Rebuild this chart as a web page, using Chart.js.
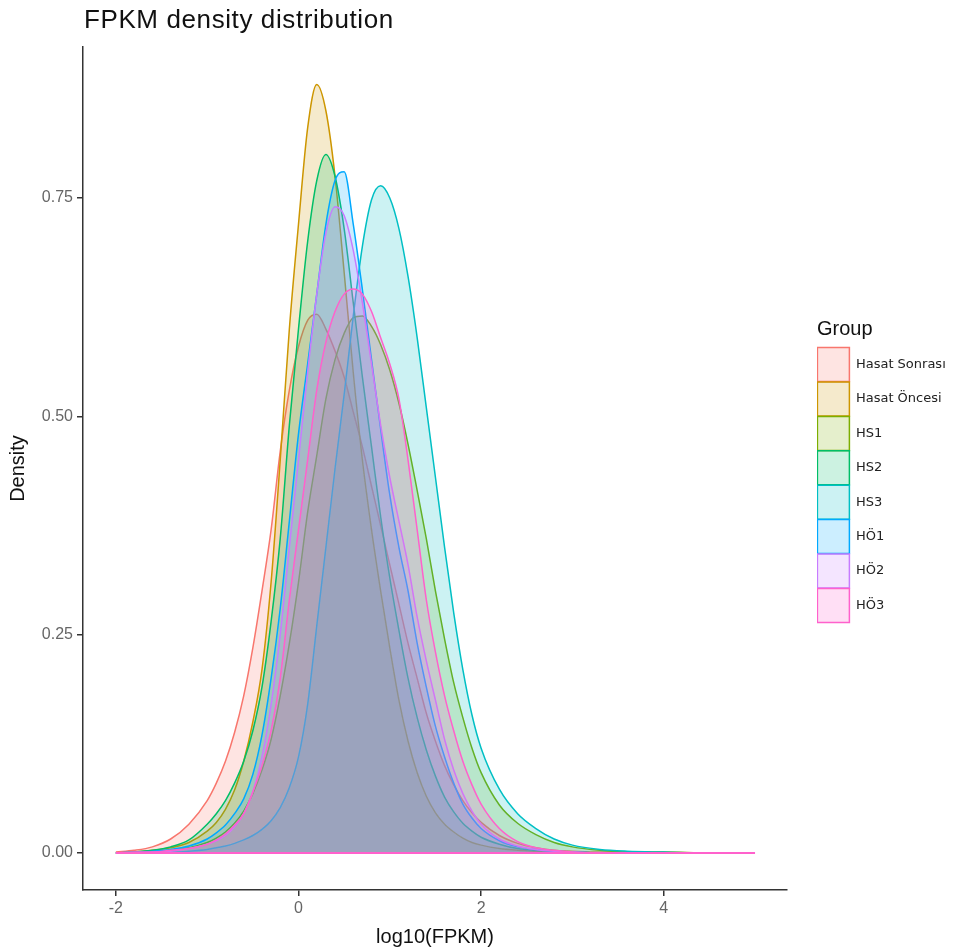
<!DOCTYPE html>
<html>
<head>
<meta charset="utf-8">
<title>FPKM density distribution</title>
<script src="https://cdn.jsdelivr.net/npm/chart.js@4.4.1/dist/chart.umd.min.js"></script>
<style>
  html, body { margin: 0; padding: 0; background: #fff; }
  canvas { display: block; }
</style>
</head>
<body>
<canvas id="graficoDensita" width="965" height="951"></canvas>
<script>
// log10(FPKM) grid where each density curve is read
const xs = [-2, -1.8, -1.6, -1.4, -1.2, -1.0, -0.9, -0.8, -0.7, -0.6, -0.5, -0.4, -0.3, -0.2, -0.1,
  0, 0.1, 0.2, 0.3, 0.4, 0.5, 0.6, 0.7, 0.8, 0.9, 1.0, 1.1, 1.2, 1.3, 1.4, 1.5, 1.6, 1.7, 1.8, 1.9,
  2.0, 2.2, 2.4, 2.6, 2.8, 3.0, 3.3, 3.6, 4.0, 4.5, 5.0];

const groups = ['Hasat Sonrası', 'Hasat Öncesi', 'HS1', 'HS2', 'HS3', 'HÖ1', 'HÖ2', 'HÖ3'];
const groupColors = ['#F8766D', '#CD9600', '#7CAE00', '#00BE67', '#00BFC4', '#00A9FF', '#C77CFF', '#FF61CC'];

const hasatSonrasi = [0.001, 0.003, 0.007, 0.016, 0.033, 0.06, 0.08, 0.105, 0.138, 0.18, 0.235, 0.30, 0.37, 0.46, 0.53,
  0.58, 0.61, 0.617, 0.60, 0.575, 0.545, 0.505, 0.465, 0.42, 0.375, 0.33, 0.285, 0.24, 0.2, 0.16, 0.128, 0.1, 0.078, 0.06, 0.046,
  0.035, 0.02, 0.011, 0.006, 0.003, 0.002, 0.001, 0.001, 0, 0, 0];
const hasatOncesi = [0, 0.001, 0.003, 0.006, 0.012, 0.025, 0.035, 0.05, 0.072, 0.105, 0.15, 0.21, 0.31, 0.45, 0.6,
  0.72, 0.83, 0.88, 0.85, 0.775, 0.665, 0.55, 0.45, 0.37, 0.3, 0.235, 0.175, 0.128, 0.092, 0.065, 0.046, 0.033, 0.024, 0.017, 0.012,
  0.009, 0.005, 0.003, 0.002, 0.001, 0.001, 0, 0, 0, 0, 0];
const hs1 = [0, 0, 0.001, 0.003, 0.006, 0.012, 0.017, 0.024, 0.034, 0.048, 0.068, 0.095, 0.13, 0.18, 0.24,
  0.31, 0.39, 0.455, 0.52, 0.565, 0.595, 0.613, 0.615, 0.603, 0.582, 0.553, 0.515, 0.468, 0.415, 0.36, 0.30, 0.245, 0.195, 0.155, 0.12,
  0.092, 0.055, 0.034, 0.021, 0.012, 0.007, 0.003, 0.001, 0.001, 0, 0];
const hs2 = [0, 0.001, 0.003, 0.007, 0.015, 0.033, 0.045, 0.06, 0.08, 0.105, 0.14, 0.19, 0.265, 0.36, 0.49,
  0.60, 0.70, 0.77, 0.80, 0.775, 0.715, 0.63, 0.545, 0.465, 0.385, 0.315, 0.255, 0.2, 0.155, 0.118, 0.088, 0.064, 0.047, 0.034, 0.025,
  0.018, 0.01, 0.005, 0.003, 0.002, 0.001, 0, 0, 0, 0, 0];
const hs3 = [0, 0, 0.001, 0.001, 0.002, 0.004, 0.006, 0.008, 0.011, 0.015, 0.02, 0.027, 0.037, 0.052, 0.075,
  0.11, 0.17, 0.26, 0.35, 0.44, 0.525, 0.615, 0.695, 0.748, 0.764, 0.75, 0.715, 0.66, 0.59, 0.51, 0.43, 0.35, 0.275, 0.21, 0.158,
  0.12, 0.073, 0.045, 0.028, 0.016, 0.009, 0.004, 0.002, 0.001, 0, 0];
const ho1 = [0, 0.001, 0.002, 0.004, 0.008, 0.016, 0.023, 0.032, 0.045, 0.062, 0.09, 0.135, 0.2, 0.28, 0.38,
  0.48, 0.56, 0.64, 0.72, 0.77, 0.78, 0.72, 0.645, 0.565, 0.485, 0.41, 0.35, 0.30, 0.24, 0.19, 0.145, 0.11, 0.08, 0.056, 0.04,
  0.028, 0.014, 0.007, 0.004, 0.002, 0.001, 0, 0, 0, 0, 0];
const ho2 = [0, 0, 0.001, 0.002, 0.005, 0.01, 0.014, 0.02, 0.03, 0.045, 0.07, 0.11, 0.17, 0.25, 0.35,
  0.45, 0.55, 0.64, 0.71, 0.74, 0.73, 0.69, 0.63, 0.56, 0.49, 0.43, 0.38, 0.33, 0.27, 0.22, 0.175, 0.13, 0.095, 0.068, 0.048,
  0.033, 0.016, 0.008, 0.004, 0.002, 0.001, 0, 0, 0, 0, 0];
const ho3 = [0, 0.001, 0.001, 0.003, 0.005, 0.01, 0.015, 0.022, 0.032, 0.045, 0.07, 0.1, 0.14, 0.2, 0.29,
  0.37, 0.45, 0.53, 0.585, 0.62, 0.64, 0.646, 0.64, 0.62, 0.59, 0.56, 0.52, 0.45, 0.37, 0.29, 0.23, 0.18, 0.14, 0.105, 0.078,
  0.056, 0.028, 0.013, 0.006, 0.003, 0.001, 0, 0, 0, 0, 0];

const densities = [hasatSonrasi, hasatOncesi, hs1, hs2, hs3, ho1, ho2, ho3];

const xTicks = [-2, 0, 2, 4];
const yTicks = [0, 0.25, 0.5, 0.75];

const titleText = 'FPKM density distribution';

Chart.defaults.font.family = '"Liberation Sans", Arial, sans-serif';

const alpha = (hex, a) => {
  const n = parseInt(hex.slice(1), 16);
  return `rgba(${(n >> 16) & 255}, ${(n >> 8) & 255}, ${n & 255}, ${a})`;
};

// one filled area per group, first group at the bottom of the stack
const datasets = groups.map((g, i) => ({
  label: g,
  data: xs.map((x, k) => ({ x: x, y: densities[i][k] })),
  borderColor: groupColors[i],
  backgroundColor: alpha(groupColors[i], 0.2),
  borderWidth: 1.5,
  fill: 'origin',
  pointRadius: 0,
  cubicInterpolationMode: 'monotone',
  order: groups.length - i
}));

// outline along y = 0 over the whole x range
datasets.push({
  label: 'baseline',
  data: [{ x: xs[0], y: 0 }, { x: xs[xs.length - 1], y: 0 }],
  borderColor: groupColors[groupColors.length - 1],
  borderWidth: 2,
  fill: false,
  pointRadius: 0,
  order: -1
});

// title aligned with the left edge of the panel
const plotTitle = {
  id: 'plotTitle',
  afterDraw(chart) {
    const ctx = chart.ctx;
    ctx.save();
    ctx.font = '26px "Liberation Sans", Arial, sans-serif';
    ctx.letterSpacing = '0.6px';
    ctx.fillStyle = '#111';
    ctx.textBaseline = 'alphabetic';
    ctx.fillText(titleText, chart.chartArea.left + 1, 28);
    ctx.restore();
  }
};

// legend column sits a bit right of the panel, centred on the panel height
const legendSlot = {
  id: 'legendSlot',
  beforeLayout(chart) {
    const lg = chart.legend;
    if (lg && !lg._slotted) {
      const fit = lg.fit;
      lg.fit = function () {
        fit.call(this);
        this.width = chart.width - 787;
      };
      lg._slotted = true;
    }
  },
  afterLayout(chart) {
    const lg = chart.legend;
    if (!lg) return;
    lg.left = 817;
    lg.top -= 30;
    lg.bottom -= 30;
  }
};

new Chart(document.getElementById('graficoDensita'), {
  type: 'line',
  data: { datasets: datasets },
  plugins: [plotTitle, legendSlot],
  options: {
    responsive: false,
    animation: false,
    events: [],
    layout: { padding: { top: 47, left: 0, right: 0, bottom: 0 } },
    plugins: {
      tooltip: { enabled: false },
      legend: {
        position: 'right',
        align: 'center',
        reverse: true,
        title: {
          display: true,
          text: 'Group',
          color: '#111',
          position: 'start',
          font: { size: 20 },
          padding: { top: 4, bottom: 4 }
        },
        labels: {
          boxWidth: 32,
          boxHeight: 34,
          padding: 0.4,
          color: '#222',
          font: { size: 13, family: '"DejaVu Sans", sans-serif' },
          filter: item => item.datasetIndex < groups.length
        }
      }
    },
    scales: {
      x: {
        type: 'linear',
        min: -2.36,
        max: 5.35,
        afterBuildTicks: s => { s.ticks = xTicks.map(v => ({ value: v })); },
        afterFit: s => { s.height = 61; },
        ticks: { color: '#666', font: { size: 16 }, padding: 3, maxRotation: 0, callback: v => String(v) },
        grid: { drawOnChartArea: false, drawTicks: true, tickLength: 6, color: '#333', lineWidth: 1.5 },
        border: { display: true, color: '#333', width: 1.5 },
        title: { display: true, text: 'log10(FPKM)', color: '#111', font: { size: 20 }, padding: { top: 4, bottom: 2 } }
      },
      y: {
        type: 'linear',
        min: -0.0424,
        max: 0.923,
        afterBuildTicks: s => { s.ticks = yTicks.map(v => ({ value: v })); },
        afterFit: s => { s.width = 83; },
        ticks: { color: '#666', font: { size: 16 }, padding: 4, callback: v => v.toFixed(2) },
        grid: { drawOnChartArea: false, drawTicks: true, tickLength: 6, color: '#333', lineWidth: 1.5 },
        border: { display: true, color: '#333', width: 1.5 },
        title: { display: true, text: 'Density', color: '#111', font: { size: 20 }, padding: { top: 6, bottom: 0 } }
      }
    }
  }
});
</script>
</body>
</html>
